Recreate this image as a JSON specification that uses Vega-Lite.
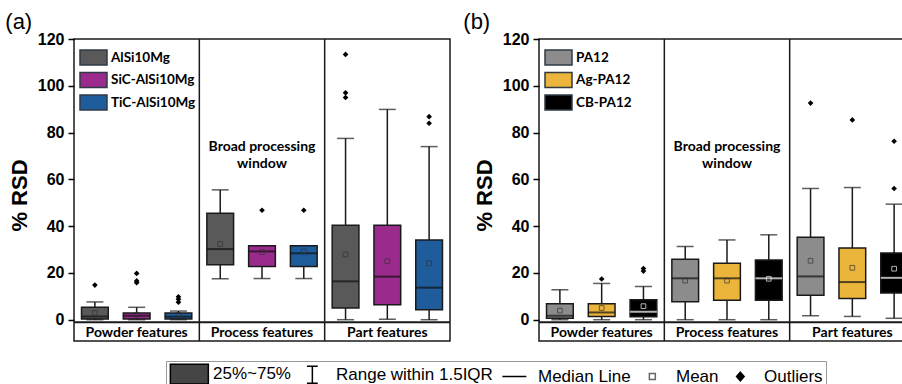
{
  "$schema": "https://vega.github.io/schema/vega-lite/v6.json",
  "padding": {"left": 4, "top": 10, "right": 0, "bottom": 0},
  "background": "white",
  "config": {
    "view": {"stroke": "#1a1a1a", "strokeWidth": 1.5},
    "font": "Lato"
  },
  "datasets": {
    "boxA": [
      {"cat": "Powder features", "mat": "AlSi10Mg", "lo": 0, "q1": 0.3, "med": 1.4, "q3": 5.3, "hi": 7.6, "mean": 2.9},
      {"cat": "Powder features", "mat": "SiC-AlSi10Mg", "lo": 0, "q1": 0.3, "med": 1.7, "q3": 2.9, "hi": 5.3, "mean": 2.1},
      {"cat": "Powder features", "mat": "TiC-AlSi10Mg", "lo": 0, "q1": 0.3, "med": 1.3, "q3": 2.9, "hi": 3.7, "mean": 2.1},
      {"cat": "Process features", "mat": "AlSi10Mg", "lo": 17.5, "q1": 23.5, "med": 30.2, "q3": 45.5, "hi": 55.5, "mean": 32.4},
      {"cat": "Process features", "mat": "SiC-AlSi10Mg", "lo": 17.6, "q1": 22.8, "med": 29.2, "q3": 31.6, "hi": 31.6, "mean": 28.9},
      {"cat": "Process features", "mat": "TiC-AlSi10Mg", "lo": 17.6, "q1": 22.8, "med": 28.4, "q3": 31.6, "hi": 31.6, "mean": 29.2},
      {"cat": "Part features", "mat": "AlSi10Mg", "lo": 0, "q1": 5.0, "med": 16.4, "q3": 40.4, "hi": 77.5, "mean": 27.9},
      {"cat": "Part features", "mat": "SiC-AlSi10Mg", "lo": 0.2, "q1": 6.4, "med": 18.4, "q3": 40.4, "hi": 89.9, "mean": 25.0},
      {"cat": "Part features", "mat": "TiC-AlSi10Mg", "lo": 0, "q1": 4.3, "med": 13.7, "q3": 34.1, "hi": 74.0, "mean": 24.1}
    ],
    "outA": [
      {"cat": "Powder features", "mat": "AlSi10Mg", "v": 14.8},
      {"cat": "Powder features", "mat": "SiC-AlSi10Mg", "v": 19.8},
      {"cat": "Powder features", "mat": "SiC-AlSi10Mg", "v": 16.6},
      {"cat": "Powder features", "mat": "SiC-AlSi10Mg", "v": 15.8},
      {"cat": "Powder features", "mat": "TiC-AlSi10Mg", "v": 9.8},
      {"cat": "Powder features", "mat": "TiC-AlSi10Mg", "v": 8.8},
      {"cat": "Powder features", "mat": "TiC-AlSi10Mg", "v": 7.5},
      {"cat": "Process features", "mat": "SiC-AlSi10Mg", "v": 46.8},
      {"cat": "Process features", "mat": "TiC-AlSi10Mg", "v": 46.8},
      {"cat": "Part features", "mat": "AlSi10Mg", "v": 113.4},
      {"cat": "Part features", "mat": "AlSi10Mg", "v": 97.0},
      {"cat": "Part features", "mat": "AlSi10Mg", "v": 95.0},
      {"cat": "Part features", "mat": "TiC-AlSi10Mg", "v": 86.8},
      {"cat": "Part features", "mat": "TiC-AlSi10Mg", "v": 84.0}
    ],
    "boxB": [
      {"cat": "Powder features", "mat": "PA12", "lo": 0, "q1": 0.6, "med": 1.7, "q3": 6.8, "hi": 12.8, "mean": 3.9},
      {"cat": "Powder features", "mat": "Ag-PA12", "lo": 0, "q1": 1.4, "med": 3.1, "q3": 6.8, "hi": 15.5, "mean": 5.0},
      {"cat": "Powder features", "mat": "CB-PA12", "lo": 0, "q1": 1.3, "med": 3.4, "q3": 8.5, "hi": 14.2, "mean": 5.8},
      {"cat": "Process features", "mat": "PA12", "lo": 0, "q1": 7.7, "med": 17.7, "q3": 25.9, "hi": 31.3, "mean": 16.7},
      {"cat": "Process features", "mat": "Ag-PA12", "lo": 0, "q1": 8.3, "med": 17.7, "q3": 24.1, "hi": 34.1, "mean": 16.7},
      {"cat": "Process features", "mat": "CB-PA12", "lo": 0, "q1": 8.3, "med": 17.7, "q3": 25.5, "hi": 36.3, "mean": 17.5},
      {"cat": "Part features", "mat": "PA12", "lo": 1.7, "q1": 10.5, "med": 18.5, "q3": 35.2, "hi": 56.1, "mean": 25.2},
      {"cat": "Part features", "mat": "Ag-PA12", "lo": 1.4, "q1": 9.1, "med": 16.1, "q3": 30.7, "hi": 56.5, "mean": 22.2},
      {"cat": "Part features", "mat": "CB-PA12", "lo": 0.6, "q1": 11.4, "med": 17.9, "q3": 28.5, "hi": 49.4, "mean": 21.8}
    ],
    "outB": [
      {"cat": "Powder features", "mat": "Ag-PA12", "v": 17.4},
      {"cat": "Powder features", "mat": "CB-PA12", "v": 21.9},
      {"cat": "Powder features", "mat": "CB-PA12", "v": 20.8},
      {"cat": "Part features", "mat": "PA12", "v": 92.6},
      {"cat": "Part features", "mat": "Ag-PA12", "v": 85.4},
      {"cat": "Part features", "mat": "CB-PA12", "v": 76.3},
      {"cat": "Part features", "mat": "CB-PA12", "v": 56.1}
    ],
    "cats": [
      {"cat": "Powder features"},
      {"cat": "Process features"},
      {"cat": "Part features"}
    ],
    "dividers": [
      {"cat": "Process features"},
      {"cat": "Part features"}
    ],
    "note": [
      {"cat": "Process features", "text": "Broad processing\nwindow"}
    ],
    "keys": [
      {"key": "25%~75%"},
      {"key": "Range within 1.5IQR"},
      {"key": "Median Line"},
      {"key": "Mean"},
      {"key": "Outliers"}
    ]
  },
  "resolve": {
    "scale": {"color": "independent", "xOffset": "independent"},
    "legend": {"color": "independent"}
  },
  "spacing": 10,
  "hconcat": [
    {
      "width": 376,
      "height": 302,
      "title": {"text": "(a)", "anchor": "start", "frame": "bounds", "font": "Liberation Sans", "fontSize": 22, "fontWeight": "normal", "color": "black", "offset": -3, "dx": -3},
      "layer": [
        {
          "data": {"name": "boxA"},
          "mark": {"type": "rule", "color": "#1a1a1a", "strokeWidth": 1.5},
          "encoding": {
            "x": {"field": "cat", "type": "nominal", "scale": {"domain": ["Powder features", "Process features", "Part features"], "paddingInner": 0, "paddingOuter": 0}, "axis": null},
            "xOffset": {"field": "mat", "type": "nominal", "scale": {"domain": ["AlSi10Mg", "SiC-AlSi10Mg", "TiC-AlSi10Mg"], "paddingInner": 0.36, "paddingOuter": 0.18}},
            "y": {"field": "lo", "type": "quantitative", "scale": {"domain": [-9.1, 120], "nice": false, "zero": false},
              "axis": {"values": [0, 10, 20, 30, 40, 50, 60, 70, 80, 90, 100, 110, 120], "labelExpr": "datum.value % 20 === 0 ? datum.label : ''",
                "tickSize": {"condition": {"test": "datum.value % 20 !== 0", "value": 3.5}, "value": 6},
                "title": "% RSD", "titleFont": "Liberation Sans", "titleFontSize": 22, "titleFontWeight": "bold", "titleColor": "black", "titlePadding": 6, "titleY": 156,
                "labelFont": "Liberation Sans", "labelFontSize": 16, "labelFontWeight": "bold", "labelColor": "black", "labelPadding": 4,
                "tickWidth": 1.5, "tickColor": "black", "domain": false, "grid": false}},
            "y2": {"field": "hi"}
          }
        },
        {
          "data": {"name": "boxA"},
          "mark": {"type": "tick", "size": 17, "thickness": 1.5, "color": "#1a1a1a"},
          "encoding": {
            "x": {"field": "cat", "type": "nominal"},
            "xOffset": {"field": "mat", "type": "nominal"},
            "y": {"field": "lo", "type": "quantitative"}
          }
        },
        {
          "data": {"name": "boxA"},
          "mark": {"type": "tick", "size": 17, "thickness": 1.5, "color": "#1a1a1a"},
          "encoding": {
            "x": {"field": "cat", "type": "nominal"},
            "xOffset": {"field": "mat", "type": "nominal"},
            "y": {"field": "hi", "type": "quantitative"}
          }
        },
        {
          "data": {"name": "boxA"},
          "mark": {"type": "bar", "stroke": "#1a1a1a", "strokeWidth": 1.5, "opacity": 1},
          "encoding": {
            "x": {"field": "cat", "type": "nominal"},
            "xOffset": {"field": "mat", "type": "nominal"},
            "y": {"field": "q1", "type": "quantitative"},
            "y2": {"field": "q3"},
            "color": {"field": "mat", "type": "nominal", "scale": {"domain": ["AlSi10Mg", "SiC-AlSi10Mg", "TiC-AlSi10Mg"], "range": ["#595959", "#9B2A8D", "#1F5C9B"]},
              "legend": {"orient": "none", "legendX": 11, "legendY": 10, "title": null, "symbolType": "M-1.8,-1H1.8V1H-1.8Z", "symbolSize": 225, "symbolStrokeColor": "#2f3b45", "symbolStrokeWidth": 1.5, "labelFont": "Lato", "labelFontWeight": "bold", "labelFontSize": 13.5, "labelColor": "black", "labelOffset": 9, "rowPadding": 1.5, "padding": 0}}
          }
        },
        {
          "data": {"name": "boxA"},
          "mark": {"type": "tick", "size": 26.7, "thickness": 2},
          "encoding": {
            "x": {"field": "cat", "type": "nominal"},
            "xOffset": {"field": "mat", "type": "nominal"},
            "y": {"field": "med", "type": "quantitative"},
            "color": {"value": "#111111"}
          }
        },
        {
          "data": {"name": "boxA"},
          "mark": {"type": "point", "shape": "square", "size": 22, "filled": false, "strokeWidth": 1},
          "encoding": {
            "x": {"field": "cat", "type": "nominal"},
            "xOffset": {"field": "mat", "type": "nominal"},
            "y": {"field": "mean", "type": "quantitative"},
            "color": {"value": "#333333"}
          }
        },
        {
          "data": {"name": "outA"},
          "mark": {"type": "point", "shape": "diamond", "size": 32, "filled": true, "opacity": 1},
          "encoding": {
            "x": {"field": "cat", "type": "nominal"},
            "xOffset": {"field": "mat", "type": "nominal"},
            "y": {"field": "v", "type": "quantitative"},
            "color": {"value": "#000000"}
          }
        },
        {
          "data": {"name": "dividers"},
          "mark": {"type": "rule", "color": "#1a1a1a", "strokeWidth": 1.5},
          "encoding": {"x": {"field": "cat", "type": "nominal", "bandPosition": 0}}
        },
        {
          "data": {"values": [{}]},
          "mark": {"type": "rule", "color": "#1a1a1a", "strokeWidth": 2},
          "encoding": {"y": {"datum": -1.1, "type": "quantitative"}}
        },
        {
          "data": {"name": "cats"},
          "mark": {"type": "text", "font": "Lato", "fontWeight": "bold", "fontSize": 14, "color": "black", "baseline": "middle"},
          "encoding": {
            "x": {"field": "cat", "type": "nominal"},
            "y": {"datum": -5.7, "type": "quantitative"},
            "text": {"field": "cat"}
          }
        },
        {
          "data": {"name": "note"},
          "mark": {"type": "text", "font": "Lato", "fontWeight": "bold", "fontSize": 14, "color": "black", "baseline": "middle", "lineBreak": "\n", "lineHeight": 17},
          "encoding": {
            "x": {"field": "cat", "type": "nominal"},
            "y": {"datum": 73.8, "type": "quantitative"},
            "text": {"field": "text"}
          }
        }
      ]
    },
    {
      "width": 376,
      "height": 302,
      "title": {"text": "(b)", "anchor": "start", "frame": "bounds", "font": "Liberation Sans", "fontSize": 22, "fontWeight": "normal", "color": "black", "offset": -3, "dx": -10},
      "layer": [
        {
          "data": {"name": "boxB"},
          "mark": {"type": "rule", "color": "#1a1a1a", "strokeWidth": 1.5},
          "encoding": {
            "x": {"field": "cat", "type": "nominal", "scale": {"domain": ["Powder features", "Process features", "Part features"], "paddingInner": 0, "paddingOuter": 0}, "axis": null},
            "xOffset": {"field": "mat", "type": "nominal", "scale": {"domain": ["PA12", "Ag-PA12", "CB-PA12"], "paddingInner": 0.36, "paddingOuter": 0.18}},
            "y": {"field": "lo", "type": "quantitative", "scale": {"domain": [-9.1, 120], "nice": false, "zero": false},
              "axis": {"values": [0, 10, 20, 30, 40, 50, 60, 70, 80, 90, 100, 110, 120], "labelExpr": "datum.value % 20 === 0 ? datum.label : ''",
                "tickSize": {"condition": {"test": "datum.value % 20 !== 0", "value": 3.5}, "value": 6},
                "title": "% RSD", "titleFont": "Liberation Sans", "titleFontSize": 22, "titleFontWeight": "bold", "titleColor": "black", "titlePadding": 6, "titleY": 156,
                "labelFont": "Liberation Sans", "labelFontSize": 16, "labelFontWeight": "bold", "labelColor": "black", "labelPadding": 4,
                "tickWidth": 1.5, "tickColor": "black", "domain": false, "grid": false}},
            "y2": {"field": "hi"}
          }
        },
        {
          "data": {"name": "boxB"},
          "mark": {"type": "tick", "size": 17, "thickness": 1.5, "color": "#1a1a1a"},
          "encoding": {
            "x": {"field": "cat", "type": "nominal"},
            "xOffset": {"field": "mat", "type": "nominal"},
            "y": {"field": "lo", "type": "quantitative"}
          }
        },
        {
          "data": {"name": "boxB"},
          "mark": {"type": "tick", "size": 17, "thickness": 1.5, "color": "#1a1a1a"},
          "encoding": {
            "x": {"field": "cat", "type": "nominal"},
            "xOffset": {"field": "mat", "type": "nominal"},
            "y": {"field": "hi", "type": "quantitative"}
          }
        },
        {
          "data": {"name": "boxB"},
          "mark": {"type": "bar", "stroke": "#1a1a1a", "strokeWidth": 1.5, "opacity": 1},
          "encoding": {
            "x": {"field": "cat", "type": "nominal"},
            "xOffset": {"field": "mat", "type": "nominal"},
            "y": {"field": "q1", "type": "quantitative"},
            "y2": {"field": "q3"},
            "color": {"field": "mat", "type": "nominal", "scale": {"domain": ["PA12", "Ag-PA12", "CB-PA12"], "range": ["#8C8C8C", "#EBB43A", "#000000"]},
              "legend": {"orient": "none", "legendX": 11, "legendY": 10, "title": null, "symbolType": "M-1.8,-1H1.8V1H-1.8Z", "symbolSize": 225, "symbolStrokeColor": "#2f3b45", "symbolStrokeWidth": 1.5, "labelFont": "Lato", "labelFontWeight": "bold", "labelFontSize": 13.5, "labelColor": "black", "labelOffset": 9, "rowPadding": 1.5, "padding": 0}}
          }
        },
        {
          "data": {"name": "boxB"},
          "mark": {"type": "tick", "size": 26.7, "thickness": 2},
          "encoding": {
            "x": {"field": "cat", "type": "nominal"},
            "xOffset": {"field": "mat", "type": "nominal"},
            "y": {"field": "med", "type": "quantitative"},
            "color": {"condition": {"test": "datum.mat === 'CB-PA12'", "value": "#ffffff"}, "value": "#111111"}
          }
        },
        {
          "data": {"name": "boxB"},
          "mark": {"type": "point", "shape": "square", "size": 22, "filled": false, "strokeWidth": 1},
          "encoding": {
            "x": {"field": "cat", "type": "nominal"},
            "xOffset": {"field": "mat", "type": "nominal"},
            "y": {"field": "mean", "type": "quantitative"},
            "color": {"condition": {"test": "datum.mat === 'CB-PA12'", "value": "#ffffff"}, "value": "#333333"}
          }
        },
        {
          "data": {"name": "outB"},
          "mark": {"type": "point", "shape": "diamond", "size": 32, "filled": true, "opacity": 1},
          "encoding": {
            "x": {"field": "cat", "type": "nominal"},
            "xOffset": {"field": "mat", "type": "nominal"},
            "y": {"field": "v", "type": "quantitative"},
            "color": {"value": "#000000"}
          }
        },
        {
          "data": {"name": "dividers"},
          "mark": {"type": "rule", "color": "#1a1a1a", "strokeWidth": 1.5},
          "encoding": {"x": {"field": "cat", "type": "nominal", "bandPosition": 0}}
        },
        {
          "data": {"values": [{}]},
          "mark": {"type": "rule", "color": "#1a1a1a", "strokeWidth": 2},
          "encoding": {"y": {"datum": -1.1, "type": "quantitative"}}
        },
        {
          "data": {"name": "cats"},
          "mark": {"type": "text", "font": "Lato", "fontWeight": "bold", "fontSize": 14, "color": "black", "baseline": "middle"},
          "encoding": {
            "x": {"field": "cat", "type": "nominal"},
            "y": {"datum": -5.7, "type": "quantitative"},
            "text": {"field": "cat"}
          }
        },
        {
          "data": {"name": "note"},
          "mark": {"type": "text", "font": "Lato", "fontWeight": "bold", "fontSize": 14, "color": "black", "baseline": "middle", "lineBreak": "\n", "lineHeight": 17},
          "encoding": {
            "x": {"field": "cat", "type": "nominal"},
            "y": {"datum": 73.8, "type": "quantitative"},
            "text": {"field": "text"}
          }
        },
        {
          "data": {"name": "keys"},
          "mark": {"type": "point", "opacity": 0},
          "encoding": {
            "shape": {"field": "key", "type": "nominal",
              "scale": {"domain": ["25%~75%", "Range within 1.5IQR", "Median Line", "Mean", "Outliers"],
                "range": ["M-0.96,-1.1H3.26V1.1H-0.96Z", "M0.55,-0.95H1.75M1.15,-0.95V0.95M0.55,0.95H1.75", "M-0.18,0H2.48", "M0.82,-0.33H1.48V0.33H0.82Z", "M1.15,-0.48L1.57,0L1.15,0.48L0.73,0Z"]},
              "legend": {"orient": "none", "legendX": 92, "legendY": 322, "direction": "horizontal", "columns": 5, "title": null, "symbolSize": 324, "symbolStrokeWidth": 1.5, "symbolOpacity": 1, "labelFont": "Liberation Sans", "labelFontSize": 17, "labelColor": "black", "labelOffset": 24, "columnPadding": 1, "padding": 3, "strokeColor": "#999999"}},
            "fill": {"field": "key", "type": "nominal",
              "scale": {"domain": ["25%~75%", "Range within 1.5IQR", "Median Line", "Mean", "Outliers"],
                "range": ["#454545", "transparent", "transparent", "transparent", "#000000"]},
              "legend": {"orient": "none", "legendX": 92, "legendY": 322, "direction": "horizontal", "columns": 5, "title": null, "symbolSize": 324, "symbolStrokeWidth": 1.5, "symbolOpacity": 1, "labelFont": "Liberation Sans", "labelFontSize": 17, "labelColor": "black", "labelOffset": 24, "columnPadding": 1, "padding": 3, "strokeColor": "#999999"}},
            "stroke": {"field": "key", "type": "nominal",
              "scale": {"domain": ["25%~75%", "Range within 1.5IQR", "Median Line", "Mean", "Outliers"],
                "range": ["#000000", "#000000", "#000000", "#666666", "#000000"]},
              "legend": {"orient": "none", "legendX": 92, "legendY": 322, "direction": "horizontal", "columns": 5, "title": null, "symbolSize": 324, "symbolStrokeWidth": 1.5, "symbolOpacity": 1, "labelFont": "Liberation Sans", "labelFontSize": 17, "labelColor": "black", "labelOffset": 24, "columnPadding": 1, "padding": 3, "strokeColor": "#999999"}}
          }
        }
      ]
    }
  ]
}
